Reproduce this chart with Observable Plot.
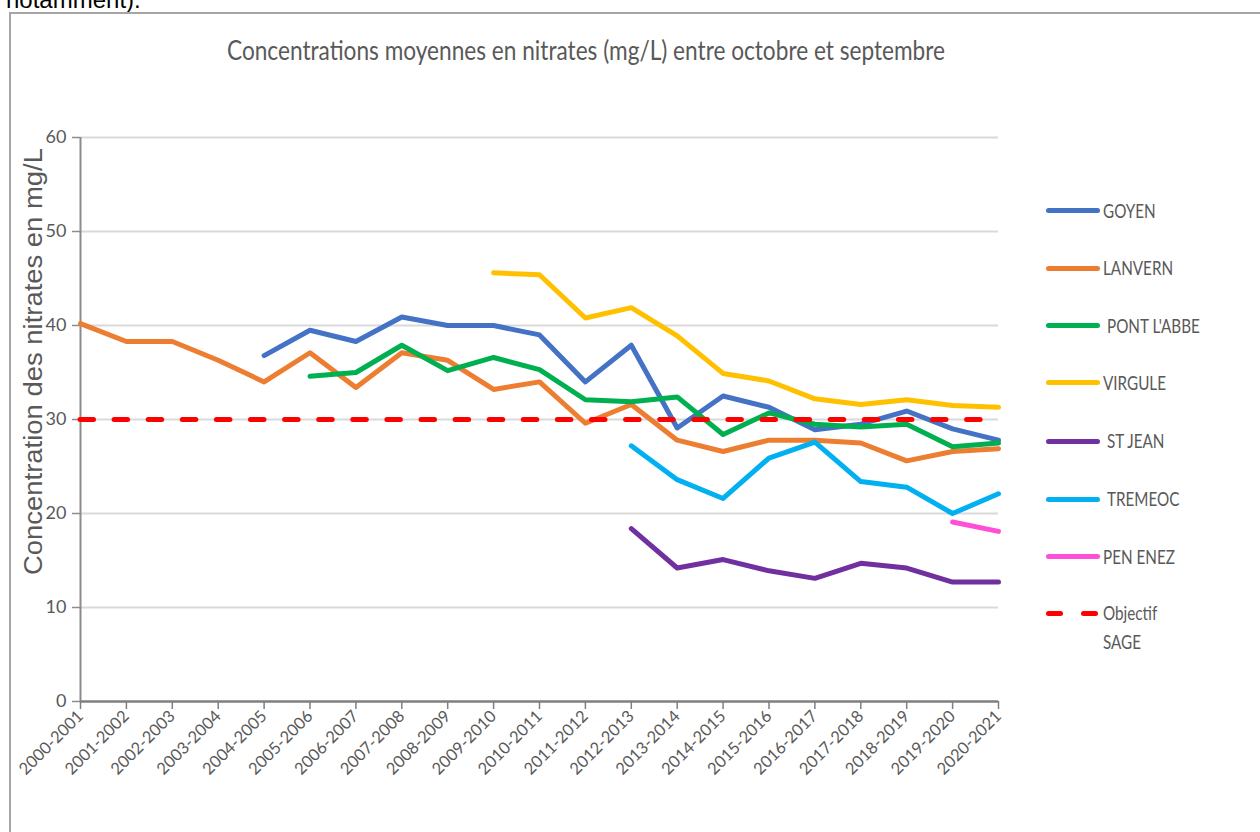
<!DOCTYPE html>
<html><head><meta charset="utf-8">
<script src="https://cdn.jsdelivr.net/npm/d3@7"></script>
<script src="https://cdn.jsdelivr.net/npm/@observablehq/plot@0.6"></script>
<style>
html,body{margin:0;padding:0;background:#fff;overflow:hidden;width:1260px;height:832px}
#page{position:relative;width:1260px;height:832px;overflow:hidden;background:#fff}
#note{position:absolute;left:6px;top:-12px;font:24px/1 "Liberation Sans",Arial,sans-serif;color:#000;white-space:nowrap}
#frame{position:absolute;left:9px;top:12px;width:1270px;height:840px;border:2px solid #a6a6a6;box-sizing:border-box}
#title{position:absolute;left:227px;top:37px;font:26px/1 Lato,sans-serif;color:#595959;white-space:nowrap;transform-origin:0 0}
#ylabel{position:absolute;left:20px;top:575px;font:26px/1 "Liberation Sans",Arial,sans-serif;color:#595959;white-space:nowrap;transform-origin:0 0}
#chart{position:absolute;left:0;top:110px}
.lg{position:absolute;font:19px/1 Lato,sans-serif;color:#595959;white-space:nowrap;transform-origin:0 0}
.sw{position:absolute;height:5px;border-radius:3px}
</style></head><body><div id="page">
<div id="note">notamment).</div>
<div id="frame"></div>
<div id="title">Concentrations moyennes en nitrates (mg/L) entre octobre et septembre</div>
<div id="ylabel">Concentration des nitrates en mg/L</div>
<div id="chart"></div>
<div id="legend"></div>
</div>
<script>
const seasons = ["2000-2001","2001-2002","2002-2003","2003-2004","2004-2005","2005-2006","2006-2007","2007-2008","2008-2009","2009-2010","2010-2011","2011-2012","2012-2013","2013-2014","2014-2015","2015-2016","2016-2017","2017-2018","2018-2019","2019-2020","2020-2021"];
const goyen     = [null,null,null,null,36.8,39.5,38.3,40.9,40.0,40.0,39.0,34.0,37.9,29.1,32.5,31.3,28.9,29.5,30.9,29.0,27.8];
const lanvern   = [40.2,38.3,38.3,36.3,34.0,37.1,33.4,37.1,36.3,33.2,34.0,29.6,31.6,27.8,26.6,27.8,27.8,27.5,25.6,26.6,26.9];
const pontLabbe = [null,null,null,null,null,34.6,35.0,37.9,35.2,36.6,35.3,32.1,31.9,32.4,28.4,30.7,29.5,29.2,29.5,27.1,27.5];
const virgule   = [null,null,null,null,null,null,null,null,null,45.6,45.4,40.8,41.9,38.9,34.9,34.1,32.2,31.6,32.1,31.5,31.3];
const stJean    = [null,null,null,null,null,null,null,null,null,null,null,null,18.4,14.2,15.1,13.9,13.1,14.7,14.2,12.7,12.7];
const tremeoc   = [null,null,null,null,null,null,null,null,null,null,null,null,27.2,23.6,21.6,25.9,27.6,23.4,22.8,20.0,22.1];
const penEnez   = [null,null,null,null,null,null,null,null,null,null,null,null,null,null,null,null,null,null,null,19.1,18.1];
const objectifSage = 30;
const seriesNames  = ["GOYEN","LANVERN","PONT L'ABBE","VIRGULE","ST JEAN","TREMEOC","PEN ENEZ"];
const seriesValues = [goyen, lanvern, pontLabbe, virgule, stJean, tremeoc, penEnez];
const seriesColors = ["#4472C4","#ED7D31","#00B050","#FFC000","#7030A0","#00B0F0","#FF4FD8"];
const objectifColor = "#FF0000";
const yTicks = [0,10,20,30,40,50,60];
const legendLabels = ["GOYEN","LANVERN","PONT L'ABBE","VIRGULE","ST JEAN","TREMEOC","PEN ENEZ"];
const legendIndent = [0,0,4,0,4,4,0];

const rows = [];
seriesNames.forEach((name, i) => seriesValues[i].forEach((v, j) => {
  if (v != null) rows.push({series: name, season: seasons[j], value: v});
}));

const chart = Plot.plot({
  width: 1020, height: 691,
  marginLeft: 80, marginRight: 22, marginTop: 27, marginBottom: 100,
  style: {fontFamily: "Lato, sans-serif", background: "transparent", overflow: "visible"},
  x: {type: "point", domain: seasons, padding: 0, round: false},
  y: {domain: [0, 60]},
  color: {domain: seriesNames, range: seriesColors},
  marks: [
    Plot.ruleY(yTicks.filter(d => d > 0), {stroke: "#d9d9d9", strokeWidth: 2}),
    Plot.ruleX([seasons[0]], {stroke: "#8c8c8c", strokeWidth: 2}),
    Plot.ruleY([0], {stroke: "#7f7f7f", strokeWidth: 2.5}),
    Plot.axisY({ticks: yTicks, tickSize: 8, tickPadding: 6, fontSize: 18, fill: "#595959", stroke: "#8c8c8c", strokeWidth: 1.5, label: null}),
    Plot.axisX({tickSize: 8, tickPadding: 4, tickRotate: -45, fontSize: 16.5, fill: "#595959", stroke: "#7f7f7f", strokeWidth: 1.5, label: null}),
    Plot.line(rows, {x: "season", y: "value", z: "series", stroke: "series", strokeWidth: 5, strokeLinejoin: "round", strokeLinecap: "round"}),
    Plot.ruleY([objectifSage], {stroke: objectifColor, strokeWidth: 5, strokeDasharray: "13.5,20.6", strokeLinecap: "round"})
  ]
});
document.getElementById("chart").appendChild(chart);

// title fit
const title = document.getElementById("title");
title.style.transform = `scaleX(${718 / title.getBoundingClientRect().width})`;
// y label fit
const yl = document.getElementById("ylabel");
const ylw = yl.getBoundingClientRect().width;
yl.style.transform = `rotate(-90deg) scaleX(${427 / ylw})`;

// legend
const legend = document.getElementById("legend");
const rowY = [210.7, 268.3, 325.7, 382.7, 441, 499, 556.7, 613.3];
let k = 1;
legendLabels.forEach((lab, i) => {
  const sw = document.createElement("div");
  sw.className = "sw";
  sw.style.left = "1046px"; sw.style.width = "54px";
  sw.style.top = (rowY[i] - 2.5) + "px";
  sw.style.background = seriesColors[i];
  legend.appendChild(sw);
  const t = document.createElement("div");
  t.className = "lg";
  t.textContent = lab;
  t.style.left = (1103 + legendIndent[i]) + "px";
  t.style.top = (rowY[i] - 10) + "px";
  legend.appendChild(t);
  if (i === 0) k = 52.7 / t.getBoundingClientRect().width;
  t.style.transform = `scaleX(${k})`;
});
// objectif legend entry
[[1046, 17], [1081, 17]].forEach(([x, w]) => {
  const d = document.createElement("div");
  d.className = "sw";
  d.style.left = x + "px"; d.style.width = w + "px";
  d.style.top = (rowY[7] - 2.5) + "px";
  d.style.background = objectifColor;
  legend.appendChild(d);
});
["Objectif", "SAGE"].forEach((s, j) => {
  const t = document.createElement("div");
  t.className = "lg";
  t.textContent = s;
  t.style.left = "1103px";
  t.style.top = (rowY[7] - 10 + j * 29) + "px";
  t.style.transform = `scaleX(${k})`;
  legend.appendChild(t);
});
</script>
</body></html>
